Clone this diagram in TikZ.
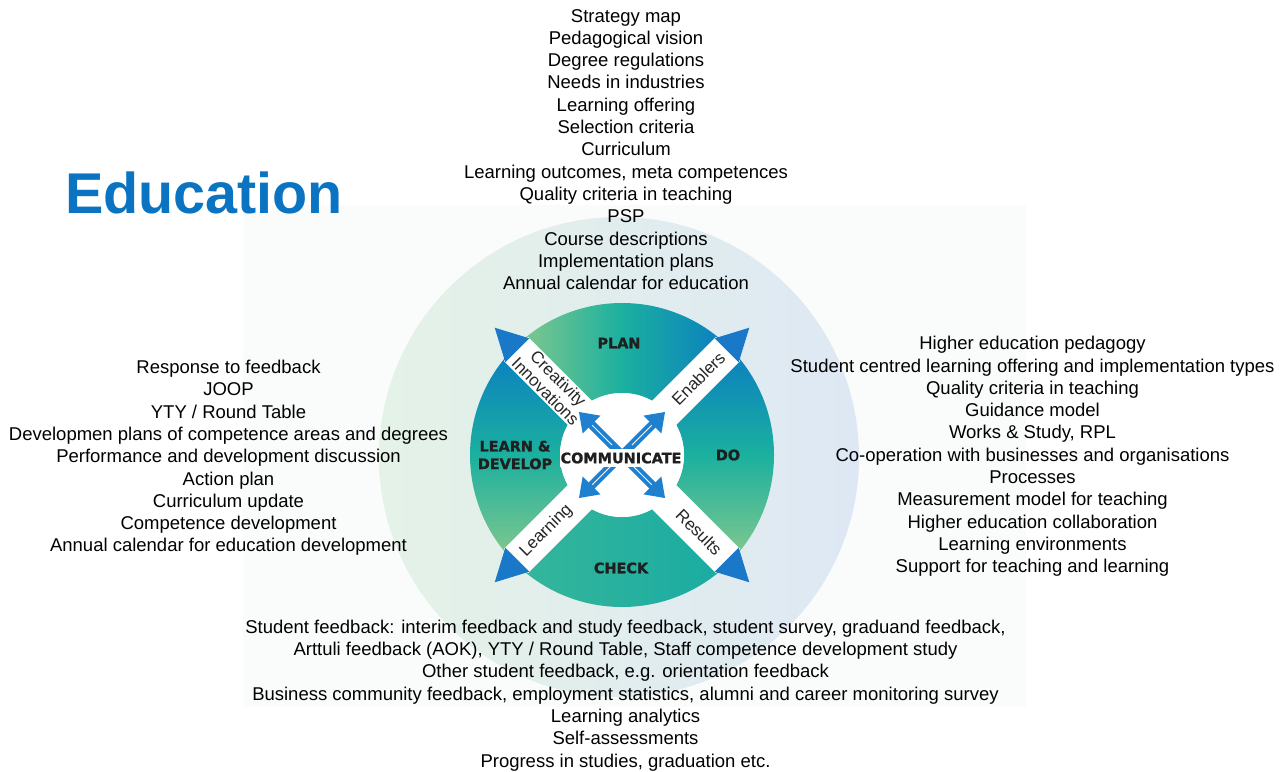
\documentclass[tikz,border=0pt]{standalone}
\usepackage{fontspec}
\setmainfont{Liberation Sans}
\newfontfamily\dvfont{DejaVu Sans}[BoldFeatures={FakeBold=1.2}]
\usetikzlibrary{arrows.meta}
\definecolor{eduBlue}{HTML}{0B74C2}
\definecolor{segBlue}{HTML}{0A7DC2}
\definecolor{segTeal}{HTML}{1BB09F}
\definecolor{segGreen}{HTML}{86C98C}
\definecolor{triBlue}{HTML}{1A78C8}
\definecolor{arrBlue}{HTML}{1F80CF}
\definecolor{bgRect}{HTML}{FAFCFB}
\definecolor{bgGreen}{HTML}{E4F2E7}
\definecolor{bgBlue}{HTML}{DEE8F4}
\tikzset{
  listtext/.style={align=center, font=\fontsize{18.5}{22.3}\selectfont, inner sep=0pt, text=black},
  seglabel/.style={font=\dvfont\bfseries\fontsize{14.4}{17.6}\selectfont, text=black!88, align=center, inner sep=0pt},
  bandlabel/.style={font=\fontsize{17}{18}\selectfont, align=center, inner sep=0pt, text=black!85},
  bandstrip/.style={fill=white},
  wedgetip/.style={fill=triBlue},
  commarrow/.style={draw=arrBlue, line width=8.5pt, -{Triangle[width=24pt,length=18pt]}},
  stripe/.style={draw=white, line width=0.9pt},
}
\begin{document}
\begin{tikzpicture}[x=1pt,y=1pt]
\useasboundingbox (0,0) rectangle (1287,-771);
% background
\fill[bgRect] (243,-205) rectangle (1026,-707);
\shade[left color=bgGreen, right color=bgBlue] (619,-457) circle[radius=240pt];
\coordinate (C) at (622,-455);
\begin{scope}[shift={(C)}]
  % segments
  \shade[left color=segGreen, right color=segBlue, middle color=segTeal]
    (45:152) arc[start angle=45,end angle=135,radius=152pt] -- (135:62) arc[start angle=135,end angle=45,radius=62pt] -- cycle;
  \shade[top color=segBlue, bottom color=segGreen, middle color=segTeal]
    (-45:152) arc[start angle=-45,end angle=45,radius=152pt] -- (45:62) arc[start angle=45,end angle=-45,radius=62pt] -- cycle;
  \shade[left color=segTeal!75!segGreen, right color=segTeal!90!segBlue]
    (225:152) arc[start angle=225,end angle=315,radius=152pt] -- (315:62) arc[start angle=315,end angle=225,radius=62pt] -- cycle;
  \shade[top color=segBlue, bottom color=segGreen, middle color=segTeal]
    (135:152) arc[start angle=135,end angle=225,radius=152pt] -- (225:62) arc[start angle=225,end angle=135,radius=62pt] -- cycle;
  % white bands and tips
  \foreach \a in {45,135,225,315} {
    \fill[bandstrip, rotate=\a] (0,-17) rectangle (150,17);
    \fill[wedgetip, rotate=\a] (148,-17) -- (180,0) -- (148,17) -- cycle;
  }
  \fill[white] (0,0) circle[radius=62pt];
  % communicate arrows
  \foreach \a in {45,135,225,315} {
    \coordinate (tip\a) at (\a:61);
    \draw[commarrow] (0,0) -- (tip\a);
    \draw[stripe] (\a:14) -- (\a:42);
  }
  % band labels
  \node[bandlabel, rotate=-45] (creat) at (135:99) {Creativity\\Innovations};
  \node[bandlabel, rotate=45] (enab) at (45:108) {Enablers};
  \node[bandlabel, rotate=-45] (res) at (-45:109) {Results};
  \node[bandlabel, rotate=45] (learnb) at (225:107) {Learning};
\end{scope}
% segment labels
\node[seglabel] (plan) at (619,-343) {PLAN};
\node[seglabel] (do) at (728,-455) {DO};
\node[seglabel] (check) at (621,-568) {CHECK};
\node[seglabel] (learn) at (515,-455) {LEARN \&\\DEVELOP};
\node[seglabel, fill=white, inner xsep=1pt, inner ysep=4pt] (comm) at (621,-458) {COMMUNICATE};
% title
\node[font=\bfseries\fontsize{57.5}{60}\selectfont, text=eduBlue, inner sep=0pt] (title) at (204,-193) {Education};
% lists
\node[listtext] (toplist) at (626,-149.5) {Strategy map\\Pedagogical vision\\Degree regulations\\Needs in industries\\Learning offering\\Selection criteria\\Curriculum\\Learning outcomes, meta competences\\Quality criteria in teaching\\PSP\\Course descriptions\\Implementation  plans\\Annual calendar for education};
\node[listtext] (leftlist) at (228.5,-458) {Response to feedback\\JOOP\\YTY / Round Table\\Developmen plans of competence areas and degrees\\Performance and development discussion\\Action plan\\Curriculum update\\Competence development\\Annual calendar for education development};
\node[listtext] (rightlist) at (1032.5,-456.5) {Higher education pedagogy\\Student centred learning offering and implementation  types\\Quality criteria in teaching\\Guidance model\\Works \& Study, RPL\\Co-operation with businesses and organisations\\Processes\\Measurement model for teaching\\Higher education collaboration\\Learning environments\\Support for teaching and learning};
\node[listtext] (bottomlist) at (625.5,-695.5) {Student feedback: interim feedback and study feedback, student survey, graduand feedback,\\Arttuli feedback (AOK), YTY / Round Table, Staff competence development study\\Other student feedback, e.g. orientation feedback\\Business community feedback, employment statistics, alumni and career monitoring survey\\Learning analytics\\Self-assessments\\Progress in studies, graduation etc.};
\end{tikzpicture}
\end{document}
